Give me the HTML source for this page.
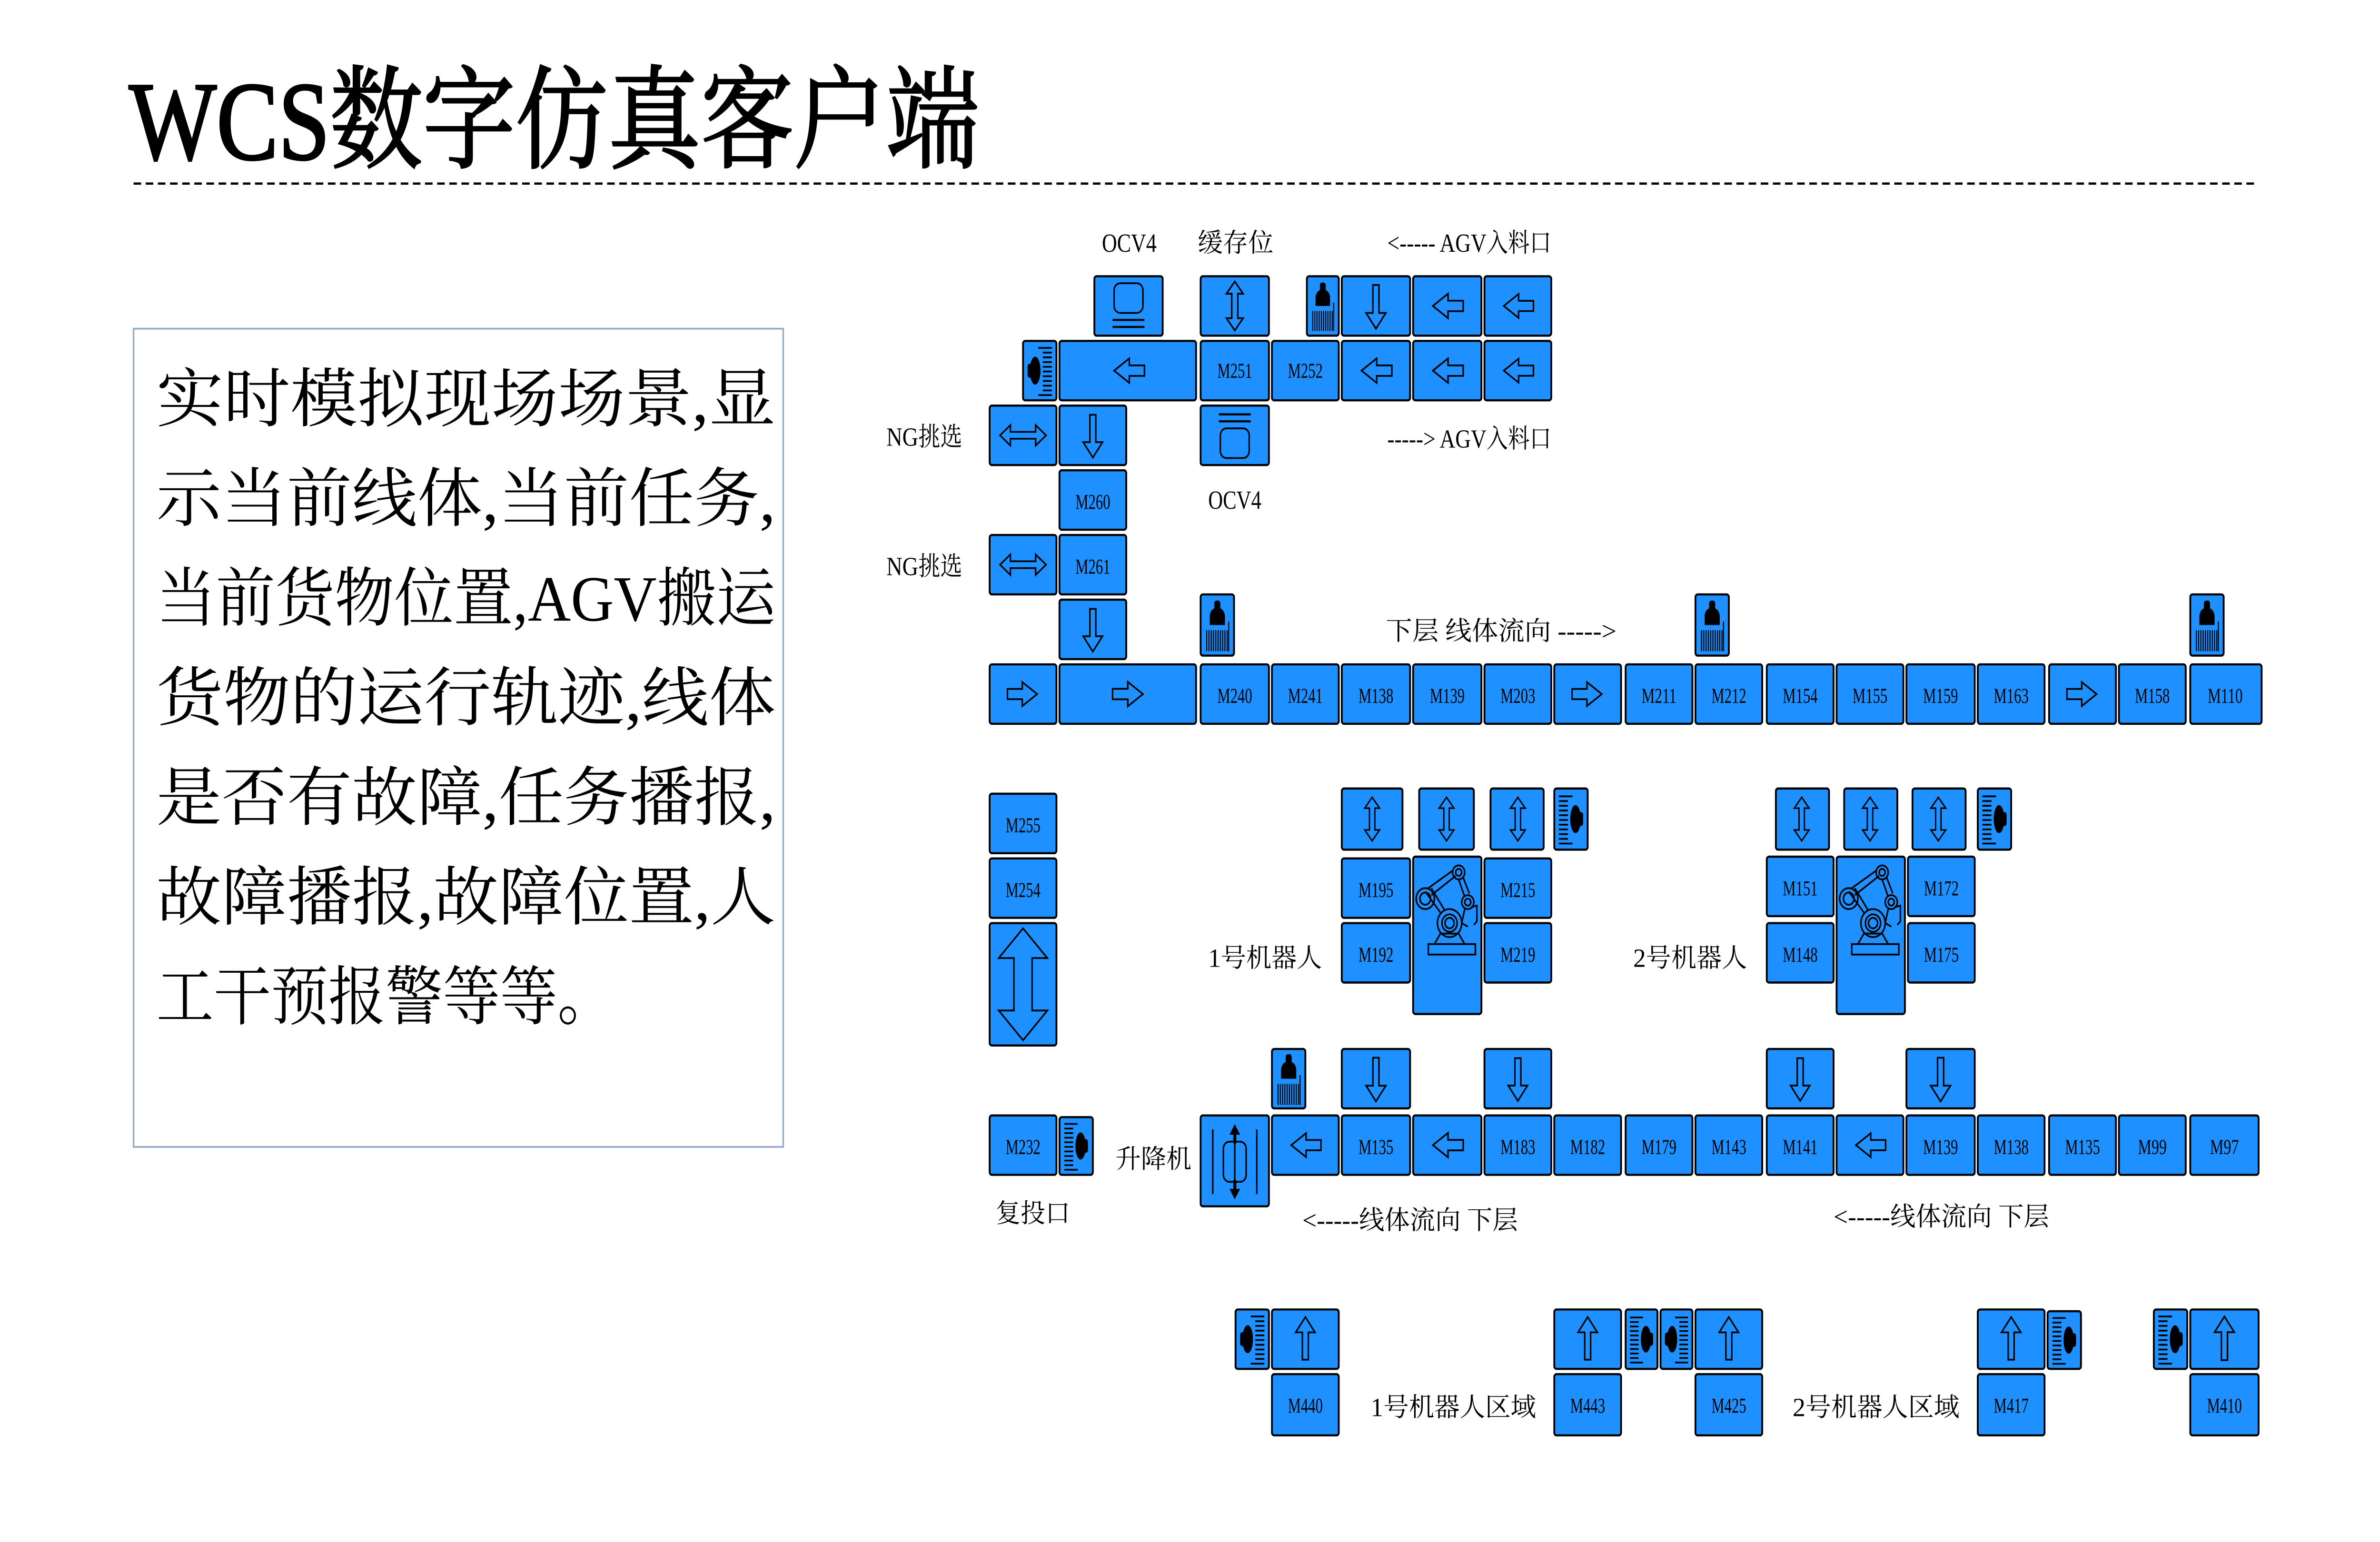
<!DOCTYPE html>
<html><head><meta charset="utf-8"><style>
html,body{margin:0;padding:0;background:#fff;width:100vw;height:100vh;overflow:hidden;}
svg{display:block;width:100vw;height:100vh}
.b{fill:#1e90ff;stroke:#000;stroke-width:1.2}
.i{fill:none;stroke:#000;stroke-width:1}
.m{font-family:"Liberation Serif","Noto Serif CJK SC",serif;font-size:12px;fill:#000;text-anchor:middle}
.l{font-family:"Liberation Serif","Noto Serif CJK SC",serif;font-size:15px;fill:#000}
.k{fill:#000}
</style></head><body>
<svg xmlns="http://www.w3.org/2000/svg" viewBox="0 0 1568 882" preserveAspectRatio="none">
<defs>
<symbol id="L" viewBox="0 0 45 34"><polygon class="i" points="13,17 23,10 23,14 33,14 33,20 23,20 23,24"/></symbol>
<symbol id="R" viewBox="0 0 45 34"><polygon class="i" points="32,17 22,10 22,14 12,14 12,20 22,20 22,24"/></symbol>
<symbol id="D" viewBox="0 0 45 34"><polygon class="i" points="22.5,30 16,21 20.5,21 20.5,5 24.5,5 24.5,21 29,21"/></symbol>
<symbol id="U" viewBox="0 0 45 34"><polygon class="i" points="22.5,4 16,13 20.5,13 20.5,29 24.5,29 24.5,13 29,13"/></symbol>
<symbol id="UD" viewBox="0 0 45 34"><polygon class="i" points="22.5,3 28,10 24.5,10 24.5,24 28,24 22.5,31 17,24 20.5,24 20.5,10 17,10"/></symbol>
<symbol id="LR" viewBox="0 0 45 34"><polygon class="i" points="7,17 14,11 14,15 31,15 31,11 38,17 31,23 31,19 14,19 14,23"/></symbol>
<symbol id="ST" viewBox="0 0 22 34"><rect class="k" x="9" y="3" width="4" height="6" rx="1.5"/><ellipse class="k" cx="11" cy="12" rx="5" ry="5"/><rect class="k" x="6" y="12" width="10" height="5"/><g stroke="#000" stroke-width="0.7"><path d="M4 20V32M5.5 20V32M7 20V32M8.5 20V32M10 20V32M11.5 20V32M13 20V32M14.5 20V32M16 20V32M17.5 20V32"/><path d="M18.5 15V32"/></g></symbol>
<symbol id="SR" viewBox="0 0 22 34"><g stroke="#000" stroke-width="1"><path d="M3 4H12M3 6.7H9M3 9.4H9M3 12.1H9M3 14.8H9M3 17.5H9M3 20.2H9M3 22.9H9M3 25.6H9M3 28.3H9M3 31H12"/></g><ellipse class="k" cx="14" cy="17" rx="3.5" ry="8"/><rect class="k" x="14" y="13" width="5" height="8" rx="1.5"/></symbol>
<symbol id="SL" viewBox="0 0 22 34"><g transform="translate(22,0) scale(-1,1)"><g stroke="#000" stroke-width="1"><path d="M3 4H12M3 6.7H9M3 9.4H9M3 12.1H9M3 14.8H9M3 17.5H9M3 20.2H9M3 22.9H9M3 25.6H9M3 28.3H9M3 31H12"/></g><ellipse class="k" cx="14" cy="17" rx="3.5" ry="8"/><rect class="k" x="14" y="13" width="5" height="8" rx="1.5"/></g></symbol>
<symbol id="OT" viewBox="0 0 45 34"><rect class="i" x="13" y="4" width="19" height="17" rx="4"/><path d="M12 25H33M12 29H33" stroke="#000" stroke-width="1.2"/></symbol>
<symbol id="OB" viewBox="0 0 45 34"><rect class="i" x="13" y="13" width="19" height="17" rx="4"/><path d="M12 5H33M12 9H33" stroke="#000" stroke-width="1.2"/></symbol>
<symbol id="RB" viewBox="0 0 45 90"><g class="i" stroke-width="0.8"><rect x="10" y="50" width="31" height="6"/><path d="M14 50L18 44H30L34 50"/><circle cx="24" cy="38" r="8"/><circle cx="24" cy="38" r="5"/><circle cx="24" cy="38" r="3"/><path d="M18 32L8 20M21 31L12 18"/><circle cx="8" cy="24" r="6"/><circle cx="8" cy="24" r="3.5"/><path d="M10 18L26 8M12 22L28 11"/><circle cx="30" cy="9" r="4"/><circle cx="30" cy="9" r="2"/><path d="M30 13L34 23M33 12L37 21"/><circle cx="36" cy="26" r="4"/><circle cx="36" cy="26" r="2"/><path d="M34 30L32 38L36 40M38 29L42 28L42 37L40 39"/></g></symbol>
<symbol id="LIFT" viewBox="0 0 45 52"><path d="M8 8V45M37 8V45" stroke="#000" stroke-width="1"/><rect class="i" x="15" y="15" width="15" height="23" rx="4"/><path d="M22.5 6V46" stroke="#000" stroke-width="1"/><polygon class="k" points="22.5,5 19,11 26,11"/><polygon class="k" points="22.5,48 19,42 26,42"/><rect class="k" x="21.5" y="10" width="2" height="6"/><rect class="k" x="21.5" y="37" width="2" height="6"/></symbol>
</defs>

<!-- title -->
<text x="85" y="91" textLength="560" lengthAdjust="spacingAndGlyphs" style="font-family:'Liberation Serif','Noto Serif CJK SC',serif;font-size:64px;fill:#000;stroke:#000;stroke-width:1.2">WCS数字仿真客户端</text>
<line x1="88" y1="105" x2="1488" y2="105" stroke="#000" stroke-width="1.3" stroke-dasharray="5,3"/>

<!-- text panel -->
<rect x="88" y="188" width="428" height="468" fill="#fff" stroke="#8fa9c7" stroke-width="1"/>
<g style="font-family:'Liberation Serif','Noto Serif CJK SC',serif;font-size:37px;fill:#000">
<text x="103" y="241" textLength="408" lengthAdjust="spacingAndGlyphs">实时模拟现场场景,显</text>
<text x="103" y="298" textLength="408" lengthAdjust="spacingAndGlyphs">示当前线体,当前任务,</text>
<text x="103" y="355" textLength="408" lengthAdjust="spacingAndGlyphs">当前货物位置,AGV搬运</text>
<text x="103" y="412" textLength="408" lengthAdjust="spacingAndGlyphs">货物的运行轨迹,线体</text>
<text x="103" y="469" textLength="408" lengthAdjust="spacingAndGlyphs">是否有故障,任务播报,</text>
<text x="103" y="526" textLength="408" lengthAdjust="spacingAndGlyphs">故障播报,故障位置,人</text>
<text x="103" y="583" textLength="302" lengthAdjust="spacingAndGlyphs">工干预报警等等。</text>
</g>

<!-- labels -->
<g class="l">
<text x="726" y="144" textLength="36" lengthAdjust="spacingAndGlyphs">OCV4</text>
<text x="789" y="144" textLength="50" lengthAdjust="spacingAndGlyphs">缓存位</text>
<text x="914" y="144" textLength="108" lengthAdjust="spacingAndGlyphs">&lt;----- AGV入料口</text>
<text x="914" y="256" textLength="108" lengthAdjust="spacingAndGlyphs">-----&gt; AGV入料口</text>
<text x="796" y="291" textLength="35" lengthAdjust="spacingAndGlyphs">OCV4</text>
<text x="584" y="255" textLength="50" lengthAdjust="spacingAndGlyphs">NG挑选</text>
<text x="584" y="329" textLength="50" lengthAdjust="spacingAndGlyphs">NG挑选</text>
<text x="913" y="366" textLength="152" lengthAdjust="spacingAndGlyphs">下层 线体流向 -----&gt;</text>
<text x="796" y="553" textLength="75" lengthAdjust="spacingAndGlyphs">1号机器人</text>
<text x="1076" y="553" textLength="75" lengthAdjust="spacingAndGlyphs">2号机器人</text>
<text x="735" y="668" textLength="50" lengthAdjust="spacingAndGlyphs">升降机</text>
<text x="656" y="699" textLength="49" lengthAdjust="spacingAndGlyphs">复投口</text>
<text x="858" y="703" textLength="142" lengthAdjust="spacingAndGlyphs">&lt;-----线体流向 下层</text>
<text x="1208" y="701" textLength="142" lengthAdjust="spacingAndGlyphs">&lt;-----线体流向 下层</text>
<text x="903" y="810" textLength="109" lengthAdjust="spacingAndGlyphs">1号机器人区域</text>
<text x="1181" y="810" textLength="110" lengthAdjust="spacingAndGlyphs">2号机器人区域</text>
</g>

<!-- row 1 -->
<rect class="b" x="721" y="158" width="45" height="34" rx="1.5"/><use href="#OT" x="721" y="158" width="45" height="34"/>
<rect class="b" x="791" y="158" width="45" height="34" rx="1.5"/><use href="#UD" x="791" y="158" width="45" height="34"/>
<rect class="b" x="861" y="158" width="21" height="34" rx="1.5"/><use href="#ST" x="861" y="158" width="21" height="34"/>
<rect class="b" x="884" y="158" width="45" height="34" rx="1.5"/><use href="#D" x="884" y="158" width="45" height="34"/>
<rect class="b" x="931" y="158" width="45" height="34" rx="1.5"/><use href="#L" x="931" y="158" width="45" height="34"/>
<rect class="b" x="978" y="158" width="44" height="34" rx="1.5"/><use href="#L" x="978" y="158" width="44" height="34"/>
<!-- row 2 -->
<rect class="b" x="674" y="195" width="22" height="34" rx="1.5"/><use href="#SL" x="674" y="195" width="22" height="34"/>
<rect class="b" x="698" y="195" width="90" height="34" rx="1.5"/><use href="#L" x="721" y="195" width="45" height="34"/>
<rect class="b" x="791" y="195" width="45" height="34" rx="1.5"/><text class="m" x="813.5" y="216" textLength="23" lengthAdjust="spacingAndGlyphs">M251</text>
<rect class="b" x="838" y="195" width="44" height="34" rx="1.5"/><text class="m" x="860" y="216" textLength="23" lengthAdjust="spacingAndGlyphs">M252</text>
<rect class="b" x="884" y="195" width="45" height="34" rx="1.5"/><use href="#L" x="884" y="195" width="45" height="34"/>
<rect class="b" x="931" y="195" width="45" height="34" rx="1.5"/><use href="#L" x="931" y="195" width="45" height="34"/>
<rect class="b" x="978" y="195" width="44" height="34" rx="1.5"/><use href="#L" x="978" y="195" width="44" height="34"/>
<!-- row 3 -->
<rect class="b" x="652" y="232" width="44" height="34" rx="1.5"/><use href="#LR" x="652" y="232" width="44" height="34"/>
<rect class="b" x="698" y="232" width="44" height="34" rx="1.5"/><use href="#D" x="698" y="232" width="44" height="34"/>
<rect class="b" x="791" y="232" width="45" height="34" rx="1.5"/><use href="#OB" x="791" y="232" width="45" height="34"/>
<rect class="b" x="698" y="269" width="44" height="34" rx="1.5"/><text class="m" x="720" y="291" textLength="23" lengthAdjust="spacingAndGlyphs">M260</text>
<rect class="b" x="652" y="306" width="44" height="34" rx="1.5"/><use href="#LR" x="652" y="306" width="44" height="34"/>
<rect class="b" x="698" y="306" width="44" height="34" rx="1.5"/><text class="m" x="720" y="328" textLength="23" lengthAdjust="spacingAndGlyphs">M261</text>
<rect class="b" x="698" y="343" width="44" height="34" rx="1.5"/><use href="#D" x="698" y="343" width="44" height="34"/>
<rect class="b" x="791" y="340" width="22" height="35" rx="1.5"/><use href="#ST" x="791" y="340" width="22" height="35"/>
<rect class="b" x="1117" y="340" width="22" height="35" rx="1.5"/><use href="#ST" x="1117" y="340" width="22" height="35"/>
<rect class="b" x="1443" y="340" width="22" height="35" rx="1.5"/><use href="#ST" x="1443" y="340" width="22" height="35"/>

<!-- main row -->
<rect class="b" x="652" y="380" width="44" height="34" rx="1.5"/><use href="#R" x="652" y="380" width="44" height="34"/>
<rect class="b" x="698" y="380" width="90" height="34" rx="1.5"/><use href="#R" x="721" y="380" width="45" height="34"/>
<rect class="b" x="791" y="380" width="45" height="34" rx="1.5"/><text class="m" x="813.5" y="402" textLength="23" lengthAdjust="spacingAndGlyphs">M240</text>
<rect class="b" x="838" y="380" width="44" height="34" rx="1.5"/><text class="m" x="860" y="402" textLength="23" lengthAdjust="spacingAndGlyphs">M241</text>
<rect class="b" x="884" y="380" width="45" height="34" rx="1.5"/><text class="m" x="906.5" y="402" textLength="23" lengthAdjust="spacingAndGlyphs">M138</text>
<rect class="b" x="931" y="380" width="45" height="34" rx="1.5"/><text class="m" x="953.5" y="402" textLength="23" lengthAdjust="spacingAndGlyphs">M139</text>
<rect class="b" x="978" y="380" width="44" height="34" rx="1.5"/><text class="m" x="1000" y="402" textLength="23" lengthAdjust="spacingAndGlyphs">M203</text>
<rect class="b" x="1024" y="380" width="44" height="34" rx="1.5"/><use href="#R" x="1024" y="380" width="44" height="34"/>
<rect class="b" x="1071" y="380" width="44" height="34" rx="1.5"/><text class="m" x="1093" y="402" textLength="23" lengthAdjust="spacingAndGlyphs">M211</text>
<rect class="b" x="1117" y="380" width="44" height="34" rx="1.5"/><text class="m" x="1139" y="402" textLength="23" lengthAdjust="spacingAndGlyphs">M212</text>
<rect class="b" x="1164" y="380" width="44" height="34" rx="1.5"/><text class="m" x="1186" y="402" textLength="23" lengthAdjust="spacingAndGlyphs">M154</text>
<rect class="b" x="1210" y="380" width="44" height="34" rx="1.5"/><text class="m" x="1232" y="402" textLength="23" lengthAdjust="spacingAndGlyphs">M155</text>
<rect class="b" x="1256" y="380" width="45" height="34" rx="1.5"/><text class="m" x="1278.5" y="402" textLength="23" lengthAdjust="spacingAndGlyphs">M159</text>
<rect class="b" x="1303" y="380" width="44" height="34" rx="1.5"/><text class="m" x="1325" y="402" textLength="23" lengthAdjust="spacingAndGlyphs">M163</text>
<rect class="b" x="1350" y="380" width="44" height="34" rx="1.5"/><use href="#R" x="1350" y="380" width="44" height="34"/>
<rect class="b" x="1396" y="380" width="44" height="34" rx="1.5"/><text class="m" x="1418" y="402" textLength="23" lengthAdjust="spacingAndGlyphs">M158</text>
<rect class="b" x="1443" y="380" width="47" height="34" rx="1.5"/><text class="m" x="1466" y="402" textLength="23" lengthAdjust="spacingAndGlyphs">M110</text>

<!-- left column -->
<rect class="b" x="652" y="454" width="44" height="34" rx="1.5"/><text class="m" x="674" y="476" textLength="23" lengthAdjust="spacingAndGlyphs">M255</text>
<rect class="b" x="652" y="491" width="44" height="34" rx="1.5"/><text class="m" x="674" y="513" textLength="23" lengthAdjust="spacingAndGlyphs">M254</text>
<rect class="b" x="652" y="528" width="44" height="70" rx="1.5"/><polygon class="i" points="674,531 690,548 680,548 680,578 690,578 674,595 658,578 668,578 668,548 658,548"/>

<!-- robot 1 -->
<rect class="b" x="884" y="451" width="40" height="35" rx="1.5"/><use href="#UD" x="884" y="451" width="40" height="35"/>
<rect class="b" x="935" y="451" width="36" height="35" rx="1.5"/><use href="#UD" x="933" y="451" width="40" height="35"/>
<rect class="b" x="982" y="451" width="35" height="35" rx="1.5"/><use href="#UD" x="980" y="451" width="40" height="35"/>
<rect class="b" x="1024" y="451" width="22" height="35" rx="1.5"/><use href="#SR" x="1024" y="451" width="22" height="35"/>
<rect class="b" x="884" y="491" width="45" height="34" rx="1.5"/><text class="m" x="906.5" y="513" textLength="23" lengthAdjust="spacingAndGlyphs">M195</text>
<rect class="b" x="931" y="490" width="45" height="90" rx="1.5"/><use href="#RB" x="931" y="490" width="45" height="90"/>
<rect class="b" x="978" y="491" width="44" height="34" rx="1.5"/><text class="m" x="1000" y="513" textLength="23" lengthAdjust="spacingAndGlyphs">M215</text>
<rect class="b" x="884" y="528" width="45" height="34" rx="1.5"/><text class="m" x="906.5" y="550" textLength="23" lengthAdjust="spacingAndGlyphs">M192</text>
<rect class="b" x="978" y="528" width="44" height="34" rx="1.5"/><text class="m" x="1000" y="550" textLength="23" lengthAdjust="spacingAndGlyphs">M219</text>
<!-- robot 2 -->
<rect class="b" x="1170" y="451" width="35" height="35" rx="1.5"/><use href="#UD" x="1167" y="451" width="40" height="35"/>
<rect class="b" x="1215" y="451" width="35" height="35" rx="1.5"/><use href="#UD" x="1212" y="451" width="40" height="35"/>
<rect class="b" x="1260" y="451" width="35" height="35" rx="1.5"/><use href="#UD" x="1257" y="451" width="40" height="35"/>
<rect class="b" x="1303" y="451" width="22" height="35" rx="1.5"/><use href="#SR" x="1303" y="451" width="22" height="35"/>
<rect class="b" x="1164" y="490" width="44" height="34" rx="1.5"/><text class="m" x="1186" y="512" textLength="23" lengthAdjust="spacingAndGlyphs">M151</text>
<rect class="b" x="1210" y="490" width="45" height="90" rx="1.5"/><use href="#RB" x="1210" y="490" width="45" height="90"/>
<rect class="b" x="1257" y="490" width="44" height="34" rx="1.5"/><text class="m" x="1279" y="512" textLength="23" lengthAdjust="spacingAndGlyphs">M172</text>
<rect class="b" x="1164" y="528" width="44" height="34" rx="1.5"/><text class="m" x="1186" y="550" textLength="23" lengthAdjust="spacingAndGlyphs">M148</text>
<rect class="b" x="1257" y="528" width="44" height="34" rx="1.5"/><text class="m" x="1279" y="550" textLength="23" lengthAdjust="spacingAndGlyphs">M175</text>

<!-- down row -->
<rect class="b" x="838" y="600" width="22" height="34" rx="1.5"/><use href="#ST" x="838" y="600" width="22" height="34"/>
<rect class="b" x="884" y="600" width="45" height="34" rx="1.5"/><use href="#D" x="884" y="600" width="45" height="34"/>
<rect class="b" x="978" y="600" width="44" height="34" rx="1.5"/><use href="#D" x="978" y="600" width="44" height="34"/>
<rect class="b" x="1164" y="600" width="44" height="34" rx="1.5"/><use href="#D" x="1164" y="600" width="44" height="34"/>
<rect class="b" x="1256" y="600" width="45" height="34" rx="1.5"/><use href="#D" x="1256" y="600" width="45" height="34"/>

<!-- bottom row -->
<rect class="b" x="652" y="638" width="44" height="34" rx="1.5"/><text class="m" x="674" y="660" textLength="23" lengthAdjust="spacingAndGlyphs">M232</text>
<rect class="b" x="698" y="639" width="22" height="33" rx="1.5"/><use href="#SR" x="698" y="639" width="22" height="33"/>
<rect class="b" x="791" y="638" width="45" height="52" rx="1.5"/><use href="#LIFT" x="791" y="638" width="45" height="52"/>
<rect class="b" x="838" y="638" width="44" height="34" rx="1.5"/><use href="#L" x="838" y="638" width="44" height="34"/>
<rect class="b" x="884" y="638" width="45" height="34" rx="1.5"/><text class="m" x="906.5" y="660" textLength="23" lengthAdjust="spacingAndGlyphs">M135</text>
<rect class="b" x="931" y="638" width="45" height="34" rx="1.5"/><use href="#L" x="931" y="638" width="45" height="34"/>
<rect class="b" x="978" y="638" width="44" height="34" rx="1.5"/><text class="m" x="1000" y="660" textLength="23" lengthAdjust="spacingAndGlyphs">M183</text>
<rect class="b" x="1024" y="638" width="44" height="34" rx="1.5"/><text class="m" x="1046" y="660" textLength="23" lengthAdjust="spacingAndGlyphs">M182</text>
<rect class="b" x="1071" y="638" width="44" height="34" rx="1.5"/><text class="m" x="1093" y="660" textLength="23" lengthAdjust="spacingAndGlyphs">M179</text>
<rect class="b" x="1117" y="638" width="44" height="34" rx="1.5"/><text class="m" x="1139" y="660" textLength="23" lengthAdjust="spacingAndGlyphs">M143</text>
<rect class="b" x="1164" y="638" width="44" height="34" rx="1.5"/><text class="m" x="1186" y="660" textLength="23" lengthAdjust="spacingAndGlyphs">M141</text>
<rect class="b" x="1210" y="638" width="44" height="34" rx="1.5"/><use href="#L" x="1210" y="638" width="44" height="34"/>
<rect class="b" x="1256" y="638" width="45" height="34" rx="1.5"/><text class="m" x="1278.5" y="660" textLength="23" lengthAdjust="spacingAndGlyphs">M139</text>
<rect class="b" x="1303" y="638" width="44" height="34" rx="1.5"/><text class="m" x="1325" y="660" textLength="23" lengthAdjust="spacingAndGlyphs">M138</text>
<rect class="b" x="1350" y="638" width="44" height="34" rx="1.5"/><text class="m" x="1372" y="660" textLength="23" lengthAdjust="spacingAndGlyphs">M135</text>
<rect class="b" x="1396" y="638" width="44" height="34" rx="1.5"/><text class="m" x="1418" y="660" textLength="19" lengthAdjust="spacingAndGlyphs">M99</text>
<rect class="b" x="1443" y="638" width="45" height="34" rx="1.5"/><text class="m" x="1465.5" y="660" textLength="19" lengthAdjust="spacingAndGlyphs">M97</text>

<!-- bottom area -->
<rect class="b" x="814" y="749" width="22" height="34" rx="1.5"/><use href="#SL" x="814" y="749" width="22" height="34"/>
<rect class="b" x="838" y="749" width="44" height="34" rx="1.5"/><use href="#U" x="838" y="749" width="44" height="34"/>
<rect class="b" x="838" y="786" width="44" height="35" rx="1.5"/><text class="m" x="860" y="808" textLength="23" lengthAdjust="spacingAndGlyphs">M440</text>
<rect class="b" x="1024" y="749" width="44" height="34" rx="1.5"/><use href="#U" x="1024" y="749" width="44" height="34"/>
<rect class="b" x="1024" y="786" width="44" height="35" rx="1.5"/><text class="m" x="1046" y="808" textLength="23" lengthAdjust="spacingAndGlyphs">M443</text>
<rect class="b" x="1071" y="749" width="21" height="34" rx="1.5"/><use href="#SR" x="1071" y="749" width="21" height="34"/>
<rect class="b" x="1094" y="749" width="21" height="34" rx="1.5"/><use href="#SL" x="1094" y="749" width="21" height="34"/>
<rect class="b" x="1117" y="749" width="44" height="34" rx="1.5"/><use href="#U" x="1117" y="749" width="44" height="34"/>
<rect class="b" x="1117" y="786" width="44" height="35" rx="1.5"/><text class="m" x="1139" y="808" textLength="23" lengthAdjust="spacingAndGlyphs">M425</text>
<rect class="b" x="1303" y="749" width="44" height="34" rx="1.5"/><use href="#U" x="1303" y="749" width="44" height="34"/>
<rect class="b" x="1303" y="786" width="44" height="35" rx="1.5"/><text class="m" x="1325" y="808" textLength="23" lengthAdjust="spacingAndGlyphs">M417</text>
<rect class="b" x="1349" y="750" width="22" height="33" rx="1.5"/><use href="#SR" x="1349" y="750" width="22" height="33"/>
<rect class="b" x="1419" y="749" width="22" height="34" rx="1.5"/><use href="#SR" x="1419" y="749" width="22" height="34"/>
<rect class="b" x="1443" y="749" width="45" height="34" rx="1.5"/><use href="#U" x="1443" y="749" width="45" height="34"/>
<rect class="b" x="1443" y="786" width="45" height="35" rx="1.5"/><text class="m" x="1465.5" y="808" textLength="23" lengthAdjust="spacingAndGlyphs">M410</text>
</svg>
</body></html>
